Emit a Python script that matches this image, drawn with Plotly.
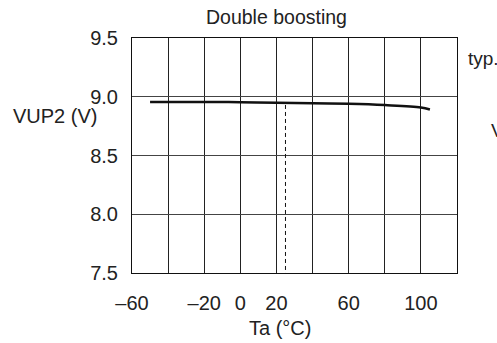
import plotly.graph_objects as go

# Data
temp_c = [-50, -20, 0, 20, 40, 60, 80, 100, 105]
vup2_v = [8.955, 8.955, 8.954, 8.949, 8.945, 8.94, 8.929, 8.909, 8.892]

typ_temp = [25, 25]
typ_v = [8.93, 7.5]

x_tickvals = [-60, -40, -20, 0, 20, 40, 60, 80, 100, 120]
x_ticktext = ["–60", "", "–20", "0", "20", "", "60", "", "100", ""]
y_tickvals = [7.5, 8.0, 8.5, 9.0, 9.5]
y_ticktext = ["7.5", "8.0", "8.5", "9.0", "9.5"]

FONT = "Liberation Sans, Arial, sans-serif"
TXT = "#222222"

fig = go.Figure()
fig.add_trace(go.Scatter(x=typ_temp, y=typ_v, mode="lines",
                         line=dict(color="#111111", width=1, dash="4px,3px"),
                         hoverinfo="skip", showlegend=False))
fig.add_trace(go.Scatter(x=temp_c, y=vup2_v, mode="lines",
                         line=dict(color="#111111", width=2.5, shape="spline"),
                         showlegend=False))

W, H = 497, 343
L, T = 132, 38
R = W - 457
B = H - 273
pw = W - L - R
ph = H - T - B

def px(xp):
    return (xp - L) / pw

def py(yp):
    return (H - B - yp) / ph

fig.update_layout(
    width=W, height=H,
    margin=dict(l=L, r=R, t=T, b=B, pad=0),
    paper_bgcolor="white", plot_bgcolor="white",
    font=dict(family=FONT, size=20, color=TXT),
    xaxis=dict(range=[-60, 120], tickmode="array", tickvals=x_tickvals, ticktext=x_ticktext,
               showgrid=True, gridcolor="#222222", gridwidth=1,
               showline=True, linecolor="#111111", linewidth=1, mirror=True,
               ticks="", ticklabelstandoff=12, zeroline=False,
               tickfont=dict(size=20, color=TXT)),
    yaxis=dict(range=[7.5, 9.5], tickmode="array", tickvals=y_tickvals, ticktext=y_ticktext,
               showgrid=True, gridcolor="#444444", gridwidth=1,
               showline=True, linecolor="#111111", linewidth=1, mirror=True,
               ticks="", ticklabelstandoff=9, zeroline=False,
               tickfont=dict(size=20, color=TXT)),
    annotations=[
        dict(text="Double boosting", x=px(276), y=py(17), xref="paper", yref="paper",
             xanchor="center", yanchor="middle", showarrow=False, font=dict(size=19.5)),
        dict(text="typ.", x=px(466), y=py(58), xref="paper", yref="paper",
             xanchor="left", yanchor="middle", showarrow=False, font=dict(size=19)),
        dict(text="V", x=px(489), y=py(130), xref="paper", yref="paper",
             xanchor="left", yanchor="middle", showarrow=False, font=dict(size=19)),
        dict(text="VUP2 (V)", x=px(11), y=py(116), xref="paper", yref="paper",
             xanchor="left", yanchor="middle", showarrow=False, font=dict(size=20)),
        dict(text="Ta (°C)", x=px(280), y=py(328), xref="paper", yref="paper",
             xanchor="center", yanchor="middle", showarrow=False, font=dict(size=20)),
    ],
)

fig.write_html(
    "out.html",
    config={"displayModeBar": False},
    post_script="document.body.style.margin='0';document.body.style.overflow='hidden';",
)
